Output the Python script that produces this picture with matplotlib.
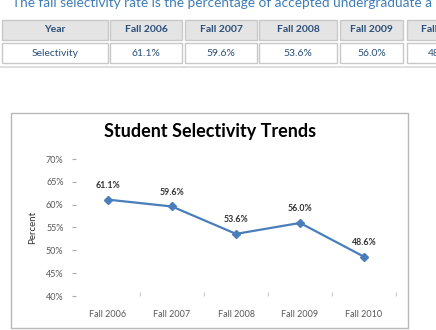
import matplotlib.pyplot as plt
from matplotlib.patches import Rectangle

W, H = 436, 330

years = ["Fall 2006", "Fall 2007", "Fall 2008", "Fall 2009", "Fall 2010"]
selectivity = [61.1, 59.6, 53.6, 56.0, 48.6]
table_headers = ["Year", "Fall 2006", "Fall 2007", "Fall 2008", "Fall 2009", "Fall 2010"]
table_values = ["Selectivity", "61.1%", "59.6%", "53.6%", "56.0%", "48.6%"]
y_ticks = [40, 45, 50, 55, 60, 65, 70]

plt.rcParams['font.family'] = ['Lato', 'DejaVu Sans']

fig = plt.figure(figsize=(W / 100, H / 100), dpi=100)


def fx(px):
    return px / W


def fy(py):
    return 1 - py / H


# intro sentence (cut off at the top)
fig.text(fx(12), fy(3), "The fall selectivity rate is the percentage of accepted undergraduate a",
         fontsize=9.8, color="#3f7cb6", va="center", ha="left")

# table
cell_x = [2, 110, 185, 259, 340, 407]
cell_w = [106, 72, 72, 78, 63, 70]
for i in range(len(table_headers)):
    x0, w = cell_x[i], cell_w[i]
    fig.patches.append(Rectangle((fx(x0), fy(40)), w / W, 20 / H, transform=fig.transFigure,
                                 facecolor="#e4e4e4", edgecolor="#c8c8c8", lw=1, zorder=-2))
    fig.patches.append(Rectangle((fx(x0), fy(63)), w / W, 20 / H, transform=fig.transFigure,
                                 facecolor="white", edgecolor="#c8c8c8", lw=1, zorder=-2))
    fig.text(fx(x0 + w / 2), fy(30), table_headers[i], fontsize=7.5, fontweight="bold",
             color="#2a4f7a", ha="center", va="center")
    fig.text(fx(x0 + w / 2), fy(53), table_values[i], fontsize=7.5,
             color="#2a4f7a", ha="center", va="center")
fig.add_artist(plt.Line2D([0, 1], [fy(67), fy(67)], color="#d8d8d8", lw=1.2, zorder=-2))

# chart frame
fig.patches.append(Rectangle((fx(11), fy(328)), 397 / W, 215 / H, transform=fig.transFigure,
                             facecolor="white", edgecolor="#b8b8b8", lw=1, zorder=-2))
fig.text(fx(210), fy(132), "Student Selectivity Trends", fontsize=13, fontweight="bold",
         ha="center", va="center", color="black")

ax = fig.add_axes([fx(76), fy(296), 320 / W, 137 / H])
ax.patch.set_alpha(0)
x = range(len(years))
ax.plot(x, selectivity, color="#4a7ebb", lw=1.6, marker="D", ms=4.2)
for xi, v in zip(x, selectivity):
    ax.annotate(f"{v:.1f}%", (xi, v), xytext=(0, 7), textcoords="offset points",
                ha="center", va="bottom", fontsize=6.3, fontweight="bold", color="#333333")

ax.set_xlim(-0.5, len(years) - 0.5)
ax.set_ylim(40, 70)
ax.set_yticks(y_ticks)
ax.set_yticklabels([f"{t}%" for t in y_ticks])
ax.set_xticks(x)
ax.set_xticklabels(years)
ax.set_xticks([i + 0.5 for i in range(len(years))], minor=True)
for s in ax.spines.values():
    s.set_visible(False)
ax.tick_params(axis="y", length=3, color="#aaaaaa", labelsize=6.5, labelcolor="#595959", pad=6)
ax.tick_params(axis="x", which="major", length=0, labelsize=6.5, labelcolor="#595959", pad=10)
ax.tick_params(axis="x", which="minor", length=3, color="#bbbbbb", direction="in")
ax.set_ylabel("Percent", fontsize=7, color="#333333", labelpad=6)

fig.savefig("out.png", dpi=100)
